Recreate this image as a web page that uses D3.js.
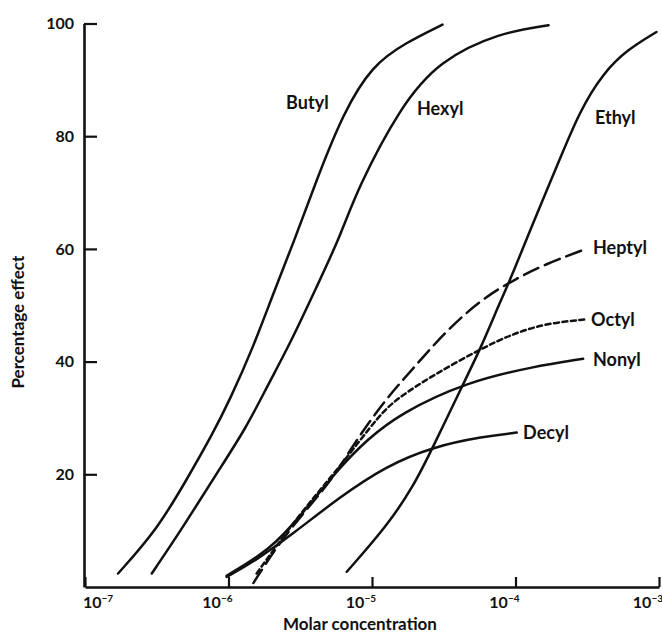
<!DOCTYPE html>
<html>
<head>
<meta charset="utf-8">
<script src="https://cdn.jsdelivr.net/npm/d3@7"></script>
<style>
  body { margin: 0; background: #fff; }
  text { font-family: Lato, "Open Sans", sans-serif; font-weight: bold; fill: #111; }
</style>
</head>
<body>
<script>
// concentration (M), percentage effect
const butyl = [[1.70e-7, 2.4], [3.16e-7, 10.1], [5.1e-7, 19.0], [7.8e-7, 27.3], [1.02e-6, 33.2],
  [1.49e-6, 42.6], [2.05e-6, 52.1], [2.83e-6, 61.0], [4.1e-6, 72.2], [6.3e-6, 84.1],
  [1.0e-5, 92.6], [1.75e-5, 96.7], [3.1e-5, 99.8]];
const hexyl = [[2.92e-7, 2.4], [4.84e-7, 10.7], [8.3e-7, 20.2], [1.34e-6, 28.4], [1.85e-6, 35.5],
  [2.69e-6, 43.2], [4.12e-6, 53.3], [6.0e-6, 62.2], [7.9e-6, 70.6], [1.57e-5, 85.2],
  [2.97e-5, 93.5], [7.8e-5, 98.4], [1.7e-4, 99.7]];
const ethyl = [[6.67e-6, 2.7], [1.26e-5, 10.7], [1.94e-5, 17.8], [2.67e-5, 24.9], [4.33e-5, 36.1],
  [5.66e-5, 42.1], [7.9e-5, 50.9], [9.3e-5, 54.8], [1.41e-4, 66.3], [1.94e-4, 74.6],
  [2.81e-4, 84.6], [4.09e-4, 91.2], [5.96e-4, 95.3], [9.6e-4, 98.5]];
const heptyl = [[1.49e-6, 0.7], [2.17e-6, 7.2], [3.32e-6, 13.1], [4.58e-6, 17.2], [5.98e-6, 21.3],
  [7.8e-6, 26.1], [1.26e-5, 33.5], [1.94e-5, 38.8], [3.16e-5, 45.0], [5.66e-5, 50.9],
  [9.7e-5, 54.5], [1.65e-4, 57.4], [2.96e-4, 59.8]];
const octyl = [[1.57e-6, 2.4], [3.15e-6, 13.1], [5.98e-6, 21.3], [1.14e-5, 30.8], [1.57e-5, 33.8],
  [2.67e-5, 37.6], [5.66e-5, 42.2], [9.7e-5, 45.0], [1.65e-4, 46.8], [3.13e-4, 47.5]];
const nonyl = [[9.7e-7, 2.0], [1.95e-6, 6.6], [3.15e-6, 12.5], [5.98e-6, 21.3], [9.2e-6, 26.1],
  [1.57e-5, 30.8], [4.56e-5, 36.4], [1.33e-4, 39.1], [2.96e-4, 40.5]];
const decyl = [[9.7e-7, 1.8], [1.57e-6, 4.8], [2.83e-6, 9.5], [5.98e-6, 16.0], [1.26e-5, 21.5],
  [2.67e-5, 24.9], [5.97e-5, 26.7], [1.02e-4, 27.4]];

const seriesNames = ['Butyl', 'Hexyl', 'Ethyl', 'Heptyl', 'Octyl', 'Nonyl', 'Decyl'];
const seriesData = [butyl, hexyl, ethyl, heptyl, octyl, nonyl, decyl];
const seriesDash = [null, null, null, '16,7', '5,3.5', null, null];
// where each name is written, in data units
const labelAt = [[2.52e-6, 85.9], [2.06e-5, 85.0], [3.58e-4, 83.4], [3.47e-4, 60.2],
  [3.36e-4, 47.4], [3.47e-4, 40.3], [1.13e-4, 27.5]];

const xTicks = [1e-7, 1e-6, 1e-5, 1e-4, 1e-3];
const xTickExp = ['7', '6', '5', '4', '3'];
const yTicks = [20, 40, 60, 80, 100];

const width = 662;
const height = 634;

const xScale = d3.scaleLog().domain([1e-7, 1e-3]).range([85, 659]);
const yScale = d3.scaleLinear().domain([0, 100]).range([587, 23.5]);

const svg = d3.select('body')
  .append('svg')
  .attr('width', width)
  .attr('height', height);

// x axis
const xAxis = d3.axisBottom(xScale)
  .tickValues(xTicks)
  .tickSizeInner(-10)
  .tickSizeOuter(0)
  .tickFormat('');
const gx = svg.append('g')
  .attr('transform', `translate(0, ${yScale(0)})`)
  .call(xAxis);
gx.select('.domain').attr('stroke', '#111').attr('stroke-width', 2.6);
gx.selectAll('.tick line').attr('stroke', '#111').attr('stroke-width', 2.2);

const xl = svg.append('g').selectAll('text')
  .data(xTicks)
  .join('text')
  .attr('x', (d, i) => (i === 0 ? xScale(d) - 2 : xScale(d) + 4))
  .attr('y', yScale(0) + 21)
  .attr('text-anchor', (d, i) => (i === 0 ? 'start' : 'end'))
  .style('font-size', '16px');
xl.append('tspan').text('10');
xl.append('tspan')
  .attr('dy', -6)
  .style('font-size', '10px')
  .text((d, i) => `\u2212${xTickExp[i]}`);

// y axis
const yAxis = d3.axisLeft(yScale)
  .tickValues(yTicks)
  .tickSizeInner(-13)
  .tickSizeOuter(0)
  .tickPadding(10)
  .tickFormat(d3.format('d'));
const gy = svg.append('g')
  .attr('transform', `translate(${xScale(1e-7) - 1}, 0)`)
  .call(yAxis);
gy.select('.domain').attr('stroke', '#111').attr('stroke-width', 2.6);
gy.selectAll('.tick line').attr('stroke', '#111').attr('stroke-width', 2.2);
gy.selectAll('.tick text')
  .style('font-size', '16px')
  .style('font-family', 'Lato, sans-serif')
  .style('font-weight', 'bold')
  .attr('fill', '#111');

svg.append('text')
  .attr('x', 360)
  .attr('y', 630)
  .attr('text-anchor', 'middle')
  .style('font-size', '17px')
  .text('Molar concentration');

svg.append('text')
  .attr('transform', `translate(24, ${yScale(47)}) rotate(-90)`)
  .attr('text-anchor', 'middle')
  .style('font-size', '17px')
  .text('Percentage effect');

// curves
const line = d3.line()
  .x((d) => xScale(d[0]))
  .y((d) => yScale(d[1]))
  .curve(d3.curveBasis);

svg.append('g')
  .selectAll('path')
  .data(seriesData)
  .join('path')
  .attr('d', line)
  .attr('fill', 'none')
  .attr('stroke', '#111')
  .attr('stroke-width', 2.5)
  .attr('stroke-linecap', 'round')
  .attr('stroke-dasharray', (d, i) => seriesDash[i]);

svg.append('g')
  .selectAll('text')
  .data(seriesNames)
  .join('text')
  .attr('x', (d, i) => xScale(labelAt[i][0]))
  .attr('y', (d, i) => yScale(labelAt[i][1]))
  .attr('dy', '0.36em')
  .style('font-size', '18px')
  .text((d) => d);
</script>
</body>
</html>
